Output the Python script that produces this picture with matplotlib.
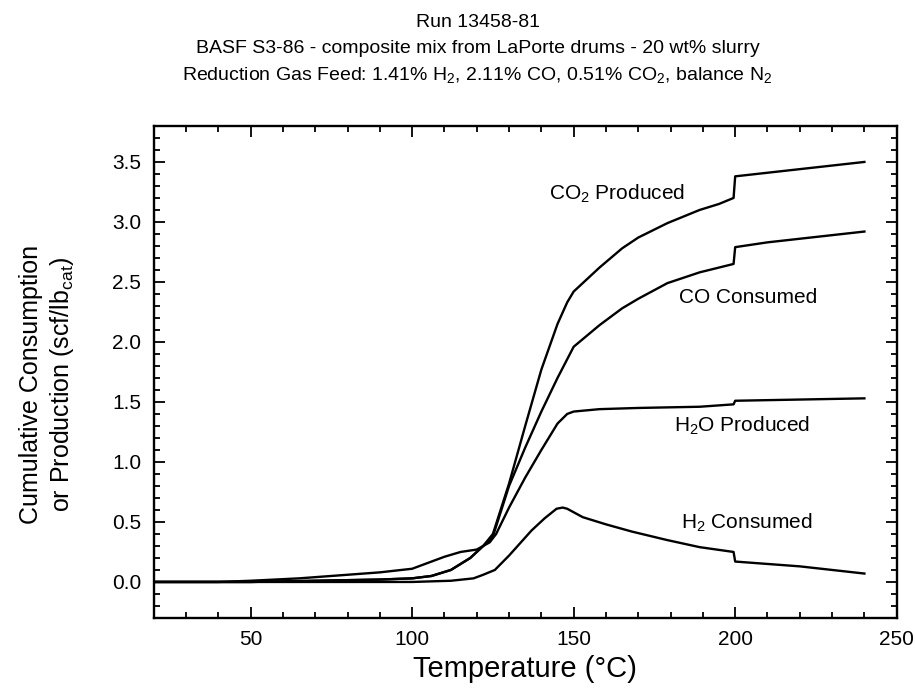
import numpy as np
import matplotlib
matplotlib.use("Agg")
from matplotlib import pyplot as plt
from matplotlib.ticker import MultipleLocator

plt.rcParams["font.family"] = ["Liberation Sans", "DejaVu Sans"]
plt.rcParams["mathtext.fontset"] = "custom"
plt.rcParams["mathtext.rm"] = "Liberation Sans"
plt.rcParams["mathtext.it"] = "Liberation Sans"

# CO2 produced
co2_t = [20, 50, 70, 90, 100, 106, 112, 118, 122, 125, 130, 135, 140, 145, 148, 150,
         158, 165, 170, 179, 189, 195, 199.5, 200, 210, 220, 230, 240]
co2_v = [0, 0, 0.01, 0.02, 0.03, 0.05, 0.1, 0.2, 0.3, 0.4, 0.82, 1.3, 1.77, 2.15, 2.33, 2.42,
         2.62, 2.78, 2.87, 2.99, 3.1, 3.15, 3.2, 3.38, 3.41, 3.44, 3.47, 3.5]

# CO consumed
co_t = [20, 50, 70, 90, 100, 106, 112, 118, 122, 125, 130, 135, 140, 145, 150,
        158, 165, 170, 179, 189, 199.5, 200, 210, 220, 230, 240]
co_v = [0, 0, 0.01, 0.02, 0.03, 0.05, 0.1, 0.2, 0.3, 0.38, 0.8, 1.12, 1.42, 1.7, 1.96,
        2.14, 2.28, 2.36, 2.49, 2.58, 2.65, 2.79, 2.83, 2.86, 2.89, 2.92]

# H2O produced
h2o_t = [20, 40, 50, 65, 80, 90, 100, 105, 110, 115, 120, 124, 126, 130, 135, 140, 145,
         148, 150, 158, 170, 189, 199.5, 200, 220, 240]
h2o_v = [0, 0, 0.01, 0.03, 0.06, 0.08, 0.11, 0.16, 0.21, 0.25, 0.27, 0.33, 0.4, 0.62,
         0.87, 1.1, 1.32, 1.4, 1.42, 1.44, 1.45, 1.46, 1.48, 1.51, 1.52, 1.53]

# H2 consumed
h2_t = [20, 100, 112, 119, 122, 125.6, 130, 137, 141, 144.7, 146.6, 148, 152.8, 160,
        168, 178.8, 189, 199.5, 200, 210, 220, 230, 240]
h2_v = [0, 0, 0.01, 0.03, 0.06, 0.1, 0.22, 0.43, 0.53, 0.61, 0.62, 0.61, 0.54, 0.48,
        0.42, 0.35, 0.29, 0.25, 0.17, 0.15, 0.13, 0.1, 0.07]

fig = plt.figure(figsize=(9.15, 6.92), dpi=100)
ax = fig.add_axes([0.168, 0.107, 0.812, 0.711])

for t, v in [(co2_t, co2_v), (co_t, co_v), (h2o_t, h2o_v), (h2_t, h2_v)]:
    ax.plot(t, v, color="black", lw=1.7)

ax.set_xlim(20, 250)
ax.set_ylim(-0.3, 3.8)
ax.xaxis.set_major_locator(MultipleLocator(50))
ax.xaxis.set_minor_locator(MultipleLocator(10))
ax.yaxis.set_major_locator(MultipleLocator(0.5))
ax.yaxis.set_minor_locator(MultipleLocator(0.1))
ax.yaxis.set_major_formatter(plt.FormatStrFormatter("%.1f"))
ax.tick_params(which="both", direction="in", top=True, right=True, width=1.3)
ax.tick_params(which="major", length=8, labelsize=15, pad=9)
ax.tick_params(which="minor", length=4)
for s in ax.spines.values():
    s.set_linewidth(1.7)

ax.text(163.5, 3.23, "CO$_2$ Produced", fontsize=15, ha="center", va="center")
ax.text(204, 2.37, "CO Consumed", fontsize=15, ha="center", va="center")
ax.text(202, 1.30, "H$_2$O Produced", fontsize=15, ha="center", va="center")
ax.text(203.5, 0.49, "H$_2$ Consumed", fontsize=15, ha="center", va="center")

ax.set_xlabel("Temperature (°C)", fontsize=21, labelpad=4)
fig.text(0.052, 0.444, "Cumulative Consumption\nor Production (scf/lb$_{cat}$)",
         rotation=90, ha="center", va="center", fontsize=18, linespacing=1.25)

fig.text(0.522, 0.967, "Run 13458-81", ha="center", va="center", fontsize=14)
fig.text(0.522, 0.930, "BASF S3-86 - composite mix from LaPorte drums - 20 wt% slurry",
         ha="center", va="center", fontsize=14)
fig.text(0.522, 0.892, "Reduction Gas Feed: 1.41% H$_2$, 2.11% CO, 0.51% CO$_2$, balance N$_2$",
         ha="center", va="center", fontsize=14)

fig.savefig("out.png", dpi=100)
